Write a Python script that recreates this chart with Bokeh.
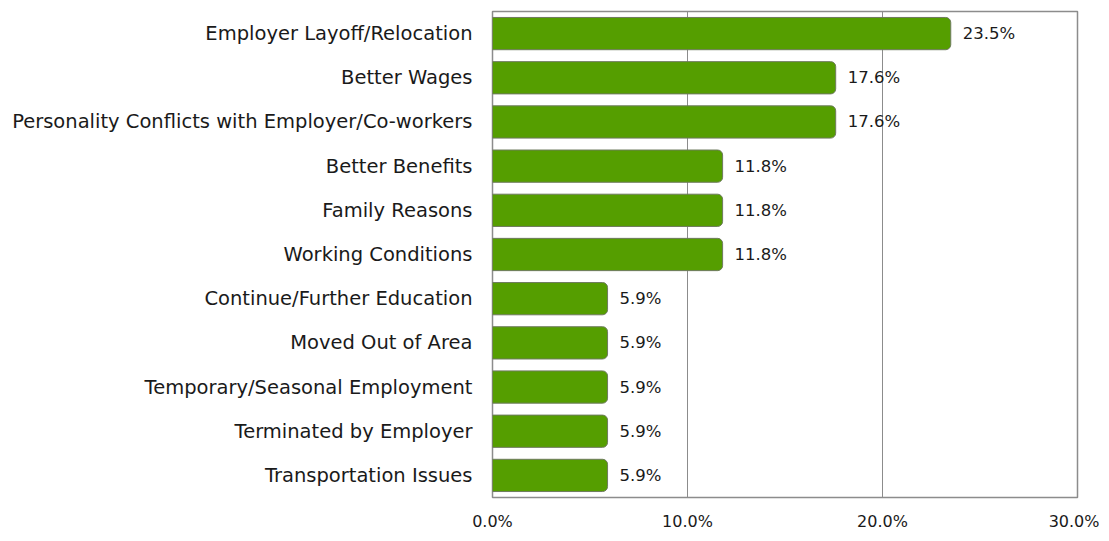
from bokeh.plotting import figure
from bokeh.models import ColumnDataSource, FixedTicker, NumeralTickFormatter, FactorRange, Range1d
from bokeh.core.properties import value
from bokeh.embed import file_html
from bokeh.resources import INLINE

categories = [
    "Employer Layoff/Relocation",
    "Better Wages",
    "Personality Conflicts with Employer/Co-workers",
    "Better Benefits",
    "Family Reasons",
    "Working Conditions",
    "Continue/Further Education",
    "Moved Out of Area",
    "Temporary/Seasonal Employment",
    "Terminated by Employer",
    "Transportation Issues",
]
shares = [0.235, 0.176, 0.176, 0.118, 0.118, 0.118, 0.059, 0.059, 0.059, 0.059, 0.059]
labels = ["23.5%", "17.6%", "17.6%", "11.8%", "11.8%", "11.8%", "5.9%", "5.9%", "5.9%", "5.9%", "5.9%"]
x_ticks = [0.0, 0.1, 0.2, 0.3]

FONT = "DejaVu Sans"

src = ColumnDataSource(dict(cat=categories, val=shares, lab=labels))

p = figure(
    width=1099, height=533,
    y_range=FactorRange(*list(reversed(categories))),
    x_range=Range1d(0, 0.30),
    output_backend="svg", toolbar_location=None,
    min_border_left=492, min_border_right=22, min_border_top=11, min_border_bottom=27,
)

p.hbar(y="cat", right="val", left=0, height=0.73, source=src,
       fill_color="#559e00", line_color="#6e7a5e", line_width=1,
       border_radius=(0, 5, 5, 0))

p.text(x="val", y="cat", text="lab", source=src, x_offset=12,
       text_baseline="middle", text_align="left",
       text_font=value(FONT), text_font_size="16.5px", text_color="#1a1a1a")

p.xaxis.ticker = FixedTicker(ticks=x_ticks)
p.xaxis.formatter = NumeralTickFormatter(format="0.0%")
p.xaxis.axis_line_color = None
p.xaxis.major_tick_line_color = None
p.xaxis.minor_tick_line_color = None
p.xaxis.major_label_text_font = FONT
p.xaxis.major_label_text_font_size = "16px"
p.xaxis.major_label_text_color = "#1a1a1a"
p.xaxis.major_label_standoff = 8

p.yaxis.axis_line_color = None
p.yaxis.major_tick_line_color = None
p.yaxis.minor_tick_line_color = None
p.yaxis.major_label_text_font = FONT
p.yaxis.major_label_text_font_size = "19.5px"
p.yaxis.major_label_text_color = "#1a1a1a"
p.yaxis.major_label_standoff = 14

p.xgrid.ticker = FixedTicker(ticks=x_ticks)
p.xgrid.grid_line_color = "#8c8c8c"
p.xgrid.grid_line_width = 1
p.ygrid.grid_line_color = None

p.outline_line_color = "#8c8c8c"
p.outline_line_width = 1.5
p.background_fill_color = "white"
p.border_fill_color = "white"

open("out.html", "w").write(file_html(p, INLINE))
